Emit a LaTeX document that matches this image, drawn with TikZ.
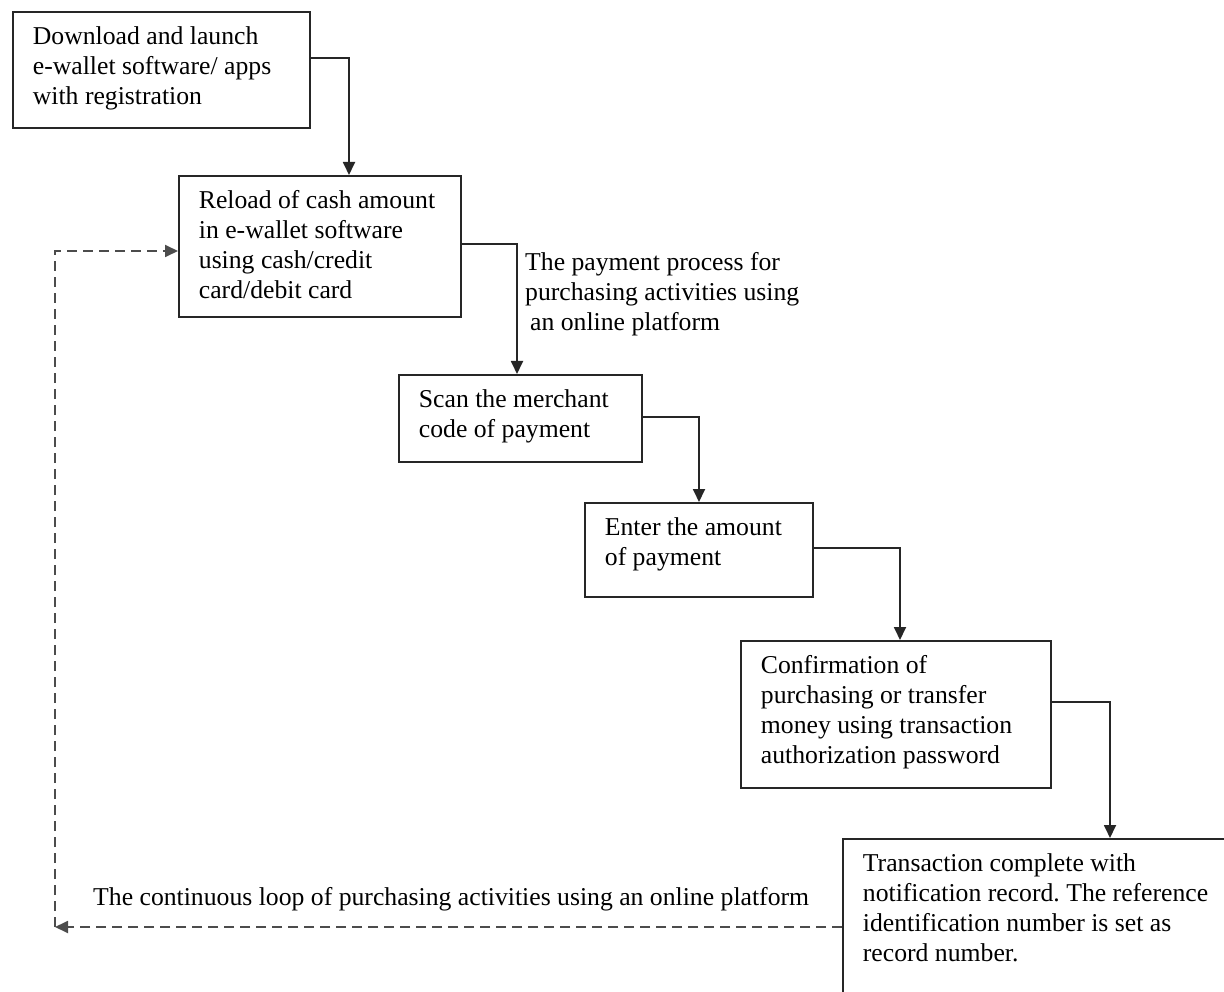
\documentclass[tikz,border=0pt]{standalone}
\usepackage{fontspec}
\setmainfont{Liberation Serif}
\usetikzlibrary{arrows.meta,calc}
\frenchspacing
% top-aligned text block of fixed size inside a step box
\newcommand\flowtext[3]{\parbox[t][#2][t]{#1}{\raggedright\strut #3}}
\tikzset{
  stepbox/.style={draw=black!85, line width=1.8pt, anchor=north west,
    inner xsep=20pt, inner ysep=12pt, fill=white},
  flow/.style={draw=black!85, line width=1.8pt,
    -{Triangle[width=12pt,length=13pt]}},
  loopline/.style={draw=black!70, line width=1.8pt, dash pattern=on 10pt off 6pt},
  loopflow/.style={loopline, -{Triangle[width=12pt,length=13pt]}},
  note/.style={inner sep=0pt, align=left},
}
\begin{document}
\begin{tikzpicture}[x=1pt, y=-1pt, font=\fontsize{25.7}{30}\selectfont]
\useasboundingbox (0,0) rectangle (1224,992);
\clip (0,0) rectangle (1224,992);
\fill[white] (0,0) rectangle (1224,992);

% process steps
\node[stepbox] (b1) at (12,11)
  {\flowtext{257pt}{92pt}{Download and launch\\ e-wallet software/ apps\\ with registration}};
\node[stepbox] (b2) at (178,175)
  {\flowtext{242pt}{117pt}{Reload of cash amount\\ in e-wallet software\\ using cash/credit\\ card/debit card}};
\node[stepbox] (b3) at (398,374)
  {\flowtext{203pt}{63pt}{Scan the merchant\\ code of payment}};
\node[stepbox] (b4) at (584,502)
  {\flowtext{188pt}{70pt}{Enter the amount\\ of payment}};
\node[stepbox] (b5) at (740,640)
  {\flowtext{270pt}{123pt}{Confirmation of\\ purchasing or transfer\\ money using transaction\\ authorization password}};
\node[stepbox] (b6) at (842,838)
  {\flowtext{360pt}{146pt}{Transaction complete with\\ notification record. The reference\\ identification number is set as\\ record number.}};

% connectors between steps
\draw[flow] ($(b1.north east)+(0,47)$) -| ($(b2.north west)+(171,0)$);
\draw[flow] ($(b2.north east)+(0,69)$) -| ($(b3.north west)+(119,0)$);
\draw[flow] ($(b3.north east)+(0,43)$) -| ($(b4.north west)+(115,0)$);
\draw[flow] ($(b4.north east)+(0,46)$) -| ($(b5.north west)+(160,0)$);
\draw[flow] ($(b5.north east)+(0,62)$) -| ($(b6.north west)+(268,0)$);

% loop back to the reload step
\coordinate (corner) at (55,927);
\draw[loopflow] ($(b6.north west)+(0,89)$) -- (corner);
\draw[loopflow] (corner) |- ($(b2.north west)+(0,76)$);

% annotations
\node[note, anchor=north west] (payproc) at (525,249)
  {\strut The payment process for\\ purchasing activities using\\ \hspace*{5pt}an online platform};
\node[note, anchor=base west] (looplabel) at (93,905)
  {The continuous loop of purchasing activities using an online platform};
\end{tikzpicture}
\end{document}
